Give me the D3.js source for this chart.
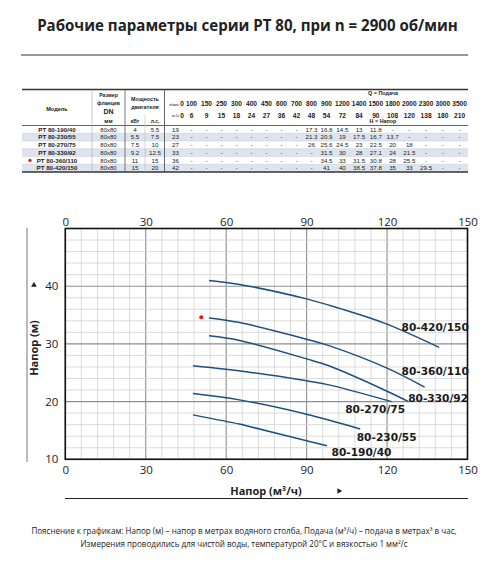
<!DOCTYPE html>
<html>
<head>
<meta charset="utf-8">
<script src="https://cdn.jsdelivr.net/npm/d3@7"></script>
<style>
  body { margin: 0; background: #fff; }
</style>
</head>
<body>
<script>
// --- table data ---
const flowLpm = [0, 100, 150, 250, 300, 400, 450, 600, 700, 800, 900, 1200, 1400, 1500, 1800, 2000, 2300, 3000, 3500];
const flowM3h = [0, 6, 9, 15, 18, 24, 27, 36, 42, 48, 54, 72, 84, 90, 108, 120, 138, 180, 210];
const models = ["PT 80-190/40", "PT 80-230/55", "PT 80-270/75", "PT 80-330/92", "PT 80-360/110", "PT 80-420/150"];
const flanges = ["80x80", "80x80", "80x80", "80x80", "80x80", "80x80"];
const powerKw = [4, 5.5, 7.5, 9.2, 11, 15];
const powerHp = [5.5, 7.5, 10, 12.5, 15, 20];
const headRows = [
  [19, null, null, null, null, null, null, null, null, 17.3, 16.8, 14.5, 13, 11.8, null, null, null, null, null],
  [23, null, null, null, null, null, null, null, null, 21.3, 20.9, 19, 17.5, 16.7, 13.7, null, null, null, null],
  [27, null, null, null, null, null, null, null, null, 26, 25.6, 24.5, 23, 22.5, 20, 18, null, null, null],
  [33, null, null, null, null, null, null, null, null, null, 31.5, 30, 28, 27.1, 24, 21.5, null, null, null],
  [36, null, null, null, null, null, null, null, null, null, 34.5, 33, 31.5, 30.8, 28, 25.5, null, null, null],
  [42, null, null, null, null, null, null, null, null, null, 41, 40, 38.5, 37.8, 35, 33, 29.5, null, null]
];
const markedRow = 4;

// --- curve data: [Q m3/h, H m] ---
const curveNames = ["80-190/40", "80-230/55", "80-270/75", "80-330/92", "80-360/110", "80-420/150"];
const curve190 = [[47.6, 17.7], [64.9, 16.1], [68.6, 15.7], [90, 13.2], [97.6, 12.35]];
const curve230 = [[47.6, 21.4], [64.9, 20.3], [90, 17.8], [110, 15.25]];
const curve270 = [[47.6, 26.2], [68.6, 25.1], [90, 23.6], [98.3, 22.9], [121.7, 20.0]];
const curve330 = [[53.6, 31.4], [65, 30.6], [90, 27.4], [98.3, 26.2], [120, 21.8], [128, 20.0]];
const curve360 = [[53.6, 34.5], [65, 33.7], [90, 30.8], [98.3, 29.7], [120, 25.8], [134, 22.5]];
const curve420 = [[53.6, 41.0], [65, 40.3], [90, 37.8], [102, 36.2], [119, 33.6], [139.4, 29.4]];
const curves = [curve190, curve230, curve270, curve330, curve360, curve420];
const markerPoint = [50.7, 34.6];
const labelQ = [99.3, 108.7, 104.4, 127.9, 125.4, 125.4];
const labelH = [10.6, 13.2, 18.1, 19.9, 24.6, 32.3];
const xTicks = [0, 30, 60, 90, 120, 150];
const yTicks = [10, 20, 30, 40];

const W = 500, H = 567;
const svg = d3.select("body").append("svg")
  .attr("width", W)
  .attr("height", H);

const ink = "#222";

function fitText(sel, target) {
  let len = sel.node().getComputedTextLength();
  let fs = parseFloat(sel.attr("font-size"));
  sel.attr("font-size", fs * target / len);
  return fs * target / len;
}

// title
const title = svg.append("text")
  .attr("x", 247.5)
  .attr("y", 31)
  .attr("text-anchor", "middle")
  .attr("font-family", "'Open Sans', sans-serif")
  .attr("font-weight", "bold")
  .attr("font-size", 16)
  .attr("fill", ink)
  .text("Рабочие параметры серии PT 80, при n = 2900 об/мин");
fitText(title, 421);

svg.append("line")
  .attr("x1", 21).attr("x2", 468)
  .attr("y1", 55).attr("y2", 55)
  .attr("stroke", "#333")
  .attr("stroke-width", 1);

// ---------- table ----------
const tLeft = 22, tRight = 468, tTop = 89.5, hdrBottom = 125.5, rowH = 7.75;
const tBottom = hdrBottom + rowH * models.length;
let flowEdges = [164.5, 184];
for (let i = 1; i < flowLpm.length; i++) {
  let w = flowLpm[i] < 1000 ? 15 : 16.75;
  flowEdges.push(flowEdges[flowEdges.length - 1] + w);
}
const colModel = (tLeft + 92) / 2, colFlange = (92 + 125) / 2, colKw = 135, colHp = 155;

const table = svg.append("g");

table.selectAll("rect.shade")
  .data(models)
  .enter()
  .append("rect")
  .attr("class", "shade")
  .attr("x", tLeft)
  .attr("y", function(d, i) { return hdrBottom + i * rowH; })
  .attr("width", tRight - tLeft)
  .attr("height", rowH)
  .attr("fill", function(d, i) { return i % 2 == 1 ? "#dde4ee" : "#fff"; });

table.selectAll("line.rowsep")
  .data(models.slice(1))
  .enter()
  .append("line")
  .attr("x1", tLeft).attr("x2", tRight)
  .attr("y1", function(d, i) { return hdrBottom + (i + 1) * rowH; })
  .attr("y2", function(d, i) { return hdrBottom + (i + 1) * rowH; })
  .attr("stroke", "#c4c8cc")
  .attr("stroke-width", 0.5);

// frame lines
[[tTop, 1.6, "#333"], [hdrBottom, 0.9, "#555"], [tBottom, 1.6, "#333"]].forEach(function(l) {
  table.append("line")
    .attr("x1", tLeft).attr("x2", tRight)
    .attr("y1", l[0]).attr("y2", l[0])
    .attr("stroke", l[2])
    .attr("stroke-width", l[1]);
});
[[92, tTop, tBottom, "#aaa", 0.6], [125, tTop, tBottom, "#666", 0.9], [145, 115, tBottom, "#bbb", 0.6], [164.5, tTop, tBottom, "#555", 0.9]].forEach(function(l) {
  table.append("line")
    .attr("x1", l[0]).attr("x2", l[0])
    .attr("y1", l[1]).attr("y2", l[2])
    .attr("stroke", l[3])
    .attr("stroke-width", l[4]);
});

function tText(x, y, s, size, weight, anchor) {
  return table.append("text")
    .attr("x", x).attr("y", y)
    .attr("text-anchor", anchor || "middle")
    .attr("font-family", "'Liberation Sans', Arial, sans-serif")
    .attr("font-size", size)
    .attr("font-weight", weight || "normal")
    .attr("fill", ink)
    .text(s);
}

tText(colModel, 111, "Модель", 5.6, "bold");
tText(colFlange, 97, "Размер", 5.2, "bold");
tText(colFlange, 104.5, "фланцев", 5.2, "bold");
tText(colFlange, 114, "DN", 7, "bold");
tText(colFlange, 122.5, "мм", 5.6, "bold");
tText(145, 100.5, "Мощность", 5.4, "bold");
tText(145, 108.5, "двигателя", 5.4, "bold");
tText(colKw, 122.5, "кВт", 5, "bold");
tText(colHp, 122.5, "л.с.", 5, "bold");

const flowMid = (flowEdges[1] + tRight) / 2;
tText(383, 95, "Q = Подача", 5.4, "bold");
tText(383, 122.5, "H = Напор", 5.4, "bold");
tText(179, 105.5, "л/мин", 3.8, "normal", "end");
tText(179, 117, "м³/ч", 3.8, "normal", "end");

table.selectAll("text.lpm")
  .data(flowLpm)
  .enter()
  .append("text")
  .attr("class", "lpm")
  .attr("x", function(d, i) { return i == 0 ? 182 : (flowEdges[i] + flowEdges[i + 1]) / 2; })
  .attr("y", 106)
  .attr("text-anchor", "middle")
  .attr("font-family", "'Liberation Sans', Arial, sans-serif")
  .attr("font-size", 6.6)
  .attr("font-weight", "bold")
  .attr("fill", ink)
  .text(function(d) { return d; });

table.selectAll("text.m3h")
  .data(flowM3h)
  .enter()
  .append("text")
  .attr("class", "m3h")
  .attr("x", function(d, i) { return i == 0 ? 182 : (flowEdges[i] + flowEdges[i + 1]) / 2; })
  .attr("y", 117.5)
  .attr("text-anchor", "middle")
  .attr("font-family", "'Liberation Sans', Arial, sans-serif")
  .attr("font-size", 6.6)
  .attr("font-weight", "bold")
  .attr("fill", ink)
  .text(function(d) { return d; });

models.forEach(function(m, r) {
  const by = hdrBottom + rowH * (r + 0.5) + 2.2;
  tText(colModel, by, m, 6.2, "bold");
  tText(colFlange, by, flanges[r], 6);
  tText(colKw, by, powerKw[r], 6.2);
  tText(colHp, by, powerHp[r], 6.2);
  headRows[r].forEach(function(v, i) {
    const cx = i == 0 ? 175.5 : (flowEdges[i] + flowEdges[i + 1]) / 2;
    tText(cx, by, v == null ? "-" : v, 6.2);
  });
});

table.append("circle")
  .attr("cx", 30)
  .attr("cy", hdrBottom + rowH * (markedRow + 0.5))
  .attr("r", 1.6)
  .attr("fill", "#e0141e");

// ---------- chart ----------
const x = d3.scaleLinear().domain([0, 150]).range([65.3, 467.5]);
const y = d3.scaleLinear().domain([10, 50]).range([459.3, 228.5]);

const chart = svg.append("g");

chart.selectAll("line.vgrid")
  .data(d3.range(0, 151, 6))
  .enter()
  .append("line")
  .attr("x1", function(d) { return x(d); })
  .attr("x2", function(d) { return x(d); })
  .attr("y1", y(10)).attr("y2", y(50))
  .attr("stroke", function(d) { return d % 30 == 0 ? "#8e8e8e" : "#d2d2d2"; })
  .attr("stroke-width", function(d) { return d % 30 == 0 ? 1.1 : 0.8; });

chart.selectAll("line.hgrid")
  .data(d3.range(10, 51, 2))
  .enter()
  .append("line")
  .attr("x1", x(0)).attr("x2", x(150))
  .attr("y1", function(d) { return y(d); })
  .attr("y2", function(d) { return y(d); })
  .attr("stroke", function(d) { return d % 10 == 0 ? "#8e8e8e" : "#d2d2d2"; })
  .attr("stroke-width", function(d) { return d % 10 == 0 ? 1.1 : 0.8; });

chart.append("rect")
  .attr("x", x(0)).attr("y", y(50))
  .attr("width", x(150) - x(0))
  .attr("height", y(10) - y(50))
  .attr("fill", "none")
  .attr("stroke", "#111")
  .attr("stroke-width", 1.6);

const line = d3.line()
  .x(function(d) { return x(d[0]); })
  .y(function(d) { return y(d[1]); })
  .curve(d3.curveCatmullRom);

chart.selectAll("path.curve")
  .data(curves)
  .enter()
  .append("path")
  .attr("class", "curve")
  .attr("d", line)
  .attr("fill", "none")
  .attr("stroke", "#1d4f7e")
  .attr("stroke-width", 1.5);

chart.append("circle")
  .attr("cx", x(markerPoint[0]))
  .attr("cy", y(markerPoint[1]))
  .attr("r", 2)
  .attr("fill", "#e0141e");

chart.selectAll("text.clabel")
  .data(curveNames)
  .enter()
  .append("text")
  .attr("class", "clabel")
  .attr("x", function(d, i) { return x(labelQ[i]); })
  .attr("y", function(d, i) { return y(labelH[i]); })
  .attr("font-family", "'DejaVu Sans', sans-serif")
  .attr("font-size", 10.6)
  .attr("font-weight", "bold")
  .attr("fill", "#1a1a1a")
  .text(function(d) { return d; });

// axes (labels only)
function styleAxis(g) {
  g.select(".domain").remove();
  g.selectAll("text")
    .attr("font-family", "'Open Sans', sans-serif")
    .attr("font-size", 11.5)
    .attr("fill", ink);
}

chart.append("g")
  .attr("transform", "translate(0," + y(50) + ")")
  .call(d3.axisTop(x).tickValues(xTicks).tickSize(0).tickPadding(3))
  .call(styleAxis);

chart.append("g")
  .attr("transform", "translate(0," + y(10) + ")")
  .call(d3.axisBottom(x).tickValues(xTicks).tickSize(0).tickPadding(7))
  .call(styleAxis);

chart.append("g")
  .attr("transform", "translate(" + x(0) + ",0)")
  .call(d3.axisLeft(y).tickValues(yTicks).tickSize(0).tickPadding(7))
  .call(styleAxis);

// axis titles
svg.append("text")
  .attr("x", 266)
  .attr("y", 495)
  .attr("text-anchor", "middle")
  .attr("font-family", "'Open Sans', sans-serif")
  .attr("font-size", 11)
  .attr("font-weight", "bold")
  .attr("fill", ink)
  .text("Напор (м³/ч)");

svg.append("path")
  .attr("d", d3.symbol(d3.symbolTriangle, 14)())
  .attr("transform", "translate(339,491) rotate(90)")
  .attr("fill", ink);

svg.append("text")
  .attr("transform", "translate(38,348) rotate(-90)")
  .attr("text-anchor", "middle")
  .attr("font-family", "'Open Sans', sans-serif")
  .attr("font-size", 11)
  .attr("font-weight", "bold")
  .attr("fill", ink)
  .text("Напор (м)");

svg.append("path")
  .attr("d", d3.symbol(d3.symbolTriangle, 14)())
  .attr("transform", "translate(34,285)")
  .attr("fill", ink);

svg.append("line")
  .attr("x1", 27).attr("x2", 27)
  .attr("y1", 228).attr("y2", 462)
  .attr("stroke", "#777")
  .attr("stroke-width", 1);

svg.append("line")
  .attr("x1", 65).attr("x2", 468)
  .attr("y1", 498.5).attr("y2", 498.5)
  .attr("stroke", "#222")
  .attr("stroke-width", 1.2);

// footnote
const note1 = svg.append("text")
  .attr("x", 244)
  .attr("y", 534)
  .attr("text-anchor", "middle")
  .attr("font-family", "'Open Sans', sans-serif")
  .attr("font-size", 9)
  .attr("fill", ink)
  .text("Пояснение к графикам: Напор (м) – напор в метрах водяного столба, Подача (м³/ч) – подача в метрах³ в час,");
const fs = fitText(note1, 426);

svg.append("text")
  .attr("x", 244)
  .attr("y", 546.5)
  .attr("text-anchor", "middle")
  .attr("font-family", "'Open Sans', sans-serif")
  .attr("font-size", fs)
  .attr("fill", ink)
  .text("Измерения проводились для чистой воды, температурой 20°C и вязкостью 1 мм²/с");
</script>
</body>
</html>
